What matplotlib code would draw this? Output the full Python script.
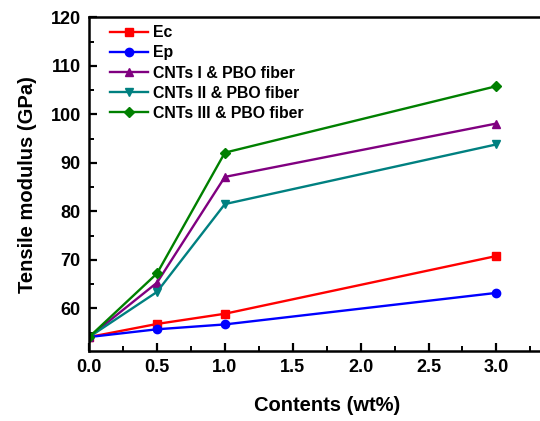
import matplotlib
matplotlib.use("Agg")
import matplotlib.pyplot as plt
from matplotlib.ticker import MultipleLocator

plt.rcParams['font.family'] = ['Liberation Sans', 'DejaVu Sans']
plt.rcParams['font.weight'] = 'bold'

contents = [0.0, 0.5, 1.0, 3.0]
ec = [54.1, 56.8, 58.9, 70.8]
ep = [54.1, 55.7, 56.7, 63.2]
cnt1 = [54.1, 65.3, 87.1, 98.1]
cnt2 = [54.1, 63.4, 81.5, 93.8]
cnt3 = [54.1, 67.2, 92.1, 105.8]

labels = ["Ec", "Ep", "CNTs I & PBO fiber", "CNTs II & PBO fiber", "CNTs III & PBO fiber"]
colors = ["#ff0000", "#0000ff", "#800080", "#008080", "#008000"]
markers = ["s", "o", "^", "v", "D"]
series = [ec, ep, cnt1, cnt2, cnt3]

fig = plt.figure(figsize=(5.4, 4.21), dpi=100)
ax = fig.add_axes([0.165, 0.166, 0.88, 0.793])

for ys, lab, c, m in zip(series, labels, colors, markers):
    ms = 5 if m == "D" else 6
    ax.plot(contents, ys, color=c, marker=m, markersize=ms, linewidth=1.7, label=lab)

ax.set_xlim(0, 3.5)
ax.set_ylim(51.2, 120)
ax.set_xticks([0.0, 0.5, 1.0, 1.5, 2.0, 2.5, 3.0])
ax.xaxis.set_minor_locator(MultipleLocator(0.25))
ax.set_yticks([60, 70, 80, 90, 100, 110, 120])
ax.yaxis.set_minor_locator(MultipleLocator(5))
ax.tick_params(which='major', direction='in', length=6, width=1.6, labelsize=13, pad=6)
ax.tick_params(which='minor', direction='in', length=3.5, width=1.4)
for sp in ax.spines.values():
    sp.set_linewidth(1.8)

ax.set_xlabel("Contents (wt%)", fontsize=14.5, fontweight='bold', labelpad=14)
ax.set_ylabel("Tensile modulus (GPa)", fontsize=14.5, fontweight='bold', labelpad=10)

ax.legend(loc='upper left', bbox_to_anchor=(0.025, 1.005), frameon=False,
          handlelength=2.4, handletextpad=0.3, labelspacing=0.33, borderaxespad=0.2,
          prop={'weight': 'bold', 'size': 11.4})

fig.savefig("out.png", dpi=100)
